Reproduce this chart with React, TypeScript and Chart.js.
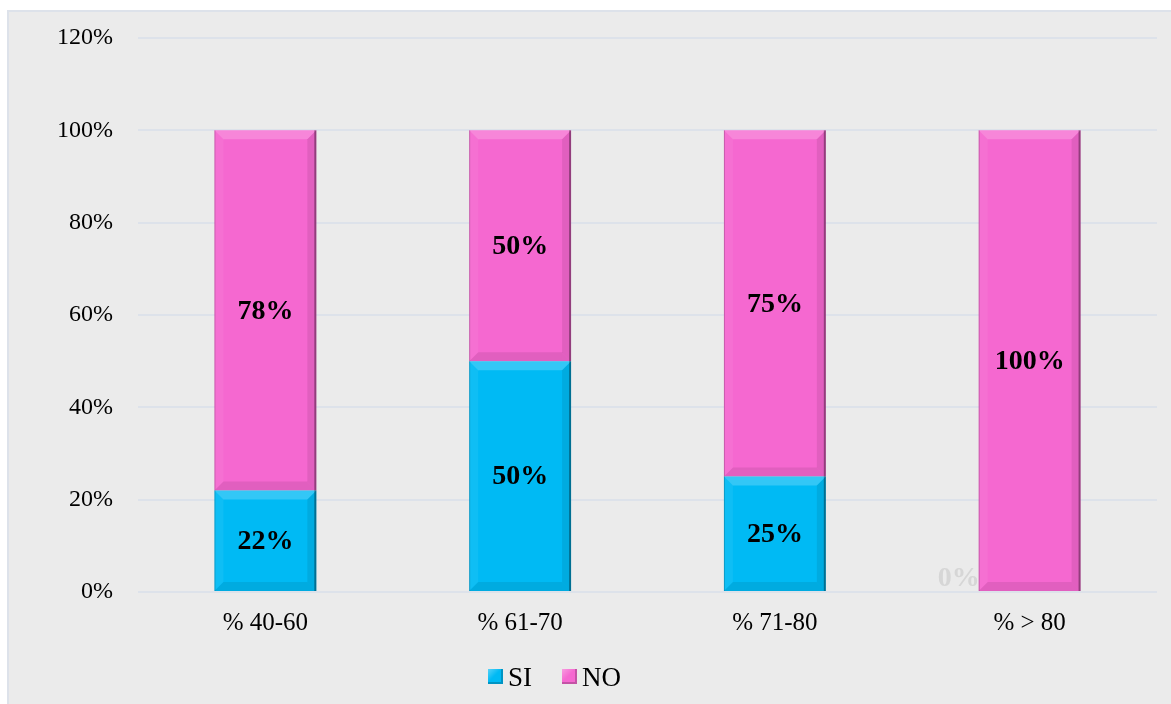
import React, { useEffect, useRef } from "react";
import { Chart, registerables } from "chart.js";

Chart.register(...registerables);

const categories = ["% 40-60", "% 61-70", "% 71-80", "% > 80"];
const siValues = [0.22, 0.5, 0.25, 0];
const noValues = [0.78, 0.5, 0.75, 1];
const yTicks = [0, 0.2, 0.4, 0.6, 0.8, 1.0, 1.2];
const seriesNames = ["SI", "NO"];
const seriesColors = ["#00baf4", "#f568d0"];

const SERIF = "'Liberation Serif', 'Times New Roman', serif";

const bevelPlugin = {
  id: "bevel",
  afterDatasetsDraw(chart: any) {
    const ctx = chart.ctx;
    chart.data.datasets.forEach((_: any, di: number) => {
      const meta = chart.getDatasetMeta(di);
      meta.data.forEach((bar: any) => {
        const x0 = bar.x - bar.width / 2;
        const x1 = bar.x + bar.width / 2;
        const y0 = Math.min(bar.y, bar.base);
        const y1 = Math.max(bar.y, bar.base);
        const h = y1 - y0;
        const w = x1 - x0;
        if (h < 1) return;
        const b = Math.min(9, h / 2, w / 2);
        ctx.save();
        const poly = (pts: number[][], fill: string) => {
          ctx.beginPath();
          ctx.moveTo(pts[0][0], pts[0][1]);
          for (let i = 1; i < pts.length; i++) ctx.lineTo(pts[i][0], pts[i][1]);
          ctx.closePath();
          ctx.fillStyle = fill;
          ctx.fill();
        };
        poly([[x0, y0], [x1, y0], [x1 - b, y0 + b], [x0 + b, y0 + b]], "rgba(255,255,255,0.2)");
        poly([[x0, y0], [x0 + b, y0 + b], [x0 + b, y1 - b], [x0, y1]], "rgba(255,255,255,0.06)");
        poly([[x1, y0], [x1, y1], [x1 - b, y1 - b], [x1 - b, y0 + b]], "rgba(0,0,0,0.08)");
        poly([[x0, y1], [x1, y1], [x1 - b, y1 - b], [x0 + b, y1 - b]], "rgba(0,0,0,0.08)");
        ctx.fillStyle = "rgba(0,0,0,0.35)";
        ctx.fillRect(x1 - 2, y0, 2, h);
        ctx.fillStyle = "rgba(0,0,0,0.18)";
        ctx.fillRect(x0, y0, 1, h);
        ctx.restore();
      });
    });
  },
};

const labelPlugin = {
  id: "segLabels",
  afterDatasetsDraw(chart: any) {
    const ctx = chart.ctx;
    ctx.save();
    ctx.font = `bold 28px ${SERIF}`;
    chart.data.datasets.forEach((ds: any, di: number) => {
      const meta = chart.getDatasetMeta(di);
      meta.data.forEach((bar: any, i: number) => {
        const v = ds.data[i];
        const txt = Math.round(v * 100) + "%";
        if (v === 0) {
          ctx.fillStyle = "#d6d6d6";
          ctx.textAlign = "right";
          ctx.textBaseline = "middle";
          ctx.fillText(txt, bar.x - bar.width / 2 + 1, bar.base - 13);
          return;
        }
        ctx.fillStyle = "#000";
        ctx.textAlign = "center";
        ctx.textBaseline = "middle";
        ctx.fillText(txt, bar.x, (bar.y + bar.base) / 2 + 1);
      });
    });
    ctx.restore();
  },
};

export default function App() {
  const ref = useRef<HTMLCanvasElement>(null);
  useEffect(() => {
    const chart = new Chart(ref.current as HTMLCanvasElement, {
      type: "bar",
      data: {
        labels: categories,
        datasets: [
          { label: seriesNames[0], data: siValues, backgroundColor: seriesColors[0], borderWidth: 0 },
          { label: seriesNames[1], data: noValues, backgroundColor: seriesColors[1], borderWidth: 0 },
        ],
      },
      options: {
        animation: false,
        responsive: false,
        maintainAspectRatio: false,
        categoryPercentage: 1,
        barPercentage: 0.4,
        layout: { padding: { top: 26, right: 14, bottom: 58, left: 0 } },
        plugins: {
          legend: { display: false },
          tooltip: { enabled: false },
          title: { display: false },
        },
        scales: {
          x: {
            stacked: true,
            grid: { display: false },
            border: { display: false },
            ticks: { color: "#000", font: { family: SERIF, size: 25 }, padding: 8 },
          },
          y: {
            stacked: true,
            min: 0,
            max: 1.2,
            afterFit: (s: any) => {
              s.width = 129;
              s.paddingTop = 0;
              s.paddingBottom = 0;
            },
            afterBuildTicks: (s: any) => {
              s.ticks = yTicks.map((v) => ({ value: v }));
            },
            grid: { color: "#dde2ea", lineWidth: 2, drawTicks: false },
            border: { display: false },
            ticks: {
              color: "#000",
              font: { family: SERIF, size: 24 },
              padding: 25,
              callback: (v: any) => Math.round(Number(v) * 100) + "%",
            },
          },
        },
      } as any,
      plugins: [bevelPlugin, labelPlugin],
    });
    return () => chart.destroy();
  }, []);

  const box = (color: string) => ({
    display: "inline-block",
    width: 15,
    height: 15,
    background: `linear-gradient(135deg, rgba(255,255,255,0.35) 0%, rgba(255,255,255,0) 45%), ${color}`,
    boxShadow: "inset -2px -2px 0 rgba(0,0,0,0.2)",
    marginRight: 5,
    verticalAlign: "middle",
  });

  return (
    <div style={{ position: "absolute", left: 0, top: 0, width: 1171, height: 704, background: "#fff", overflow: "hidden" }}>
      <div
        style={{
          position: "absolute",
          left: 7,
          top: 10,
          width: 1164,
          height: 694,
          background: "#ebebeb",
          borderLeft: "2px solid #dde2ea",
          borderTop: "2px solid #dde2ea",
          boxSizing: "border-box",
        }}
      >
        <canvas ref={ref} width={1162} height={692} style={{ position: "absolute", left: 0, top: 0 }} />
        <div
          style={{
            position: "absolute",
            left: 479,
            top: 646,
            whiteSpace: "nowrap",
            fontFamily: SERIF,
            fontSize: 27,
            color: "#000",
            lineHeight: "32px",
          }}
        >
          <span style={{ marginRight: 30 }}>
            <span style={box(seriesColors[0])} />
            <span style={{ verticalAlign: "middle" }}>{seriesNames[0]}</span>
          </span>
          <span>
            <span style={box(seriesColors[1])} />
            <span style={{ verticalAlign: "middle" }}>{seriesNames[1]}</span>
          </span>
        </div>
      </div>
    </div>
  );
}
